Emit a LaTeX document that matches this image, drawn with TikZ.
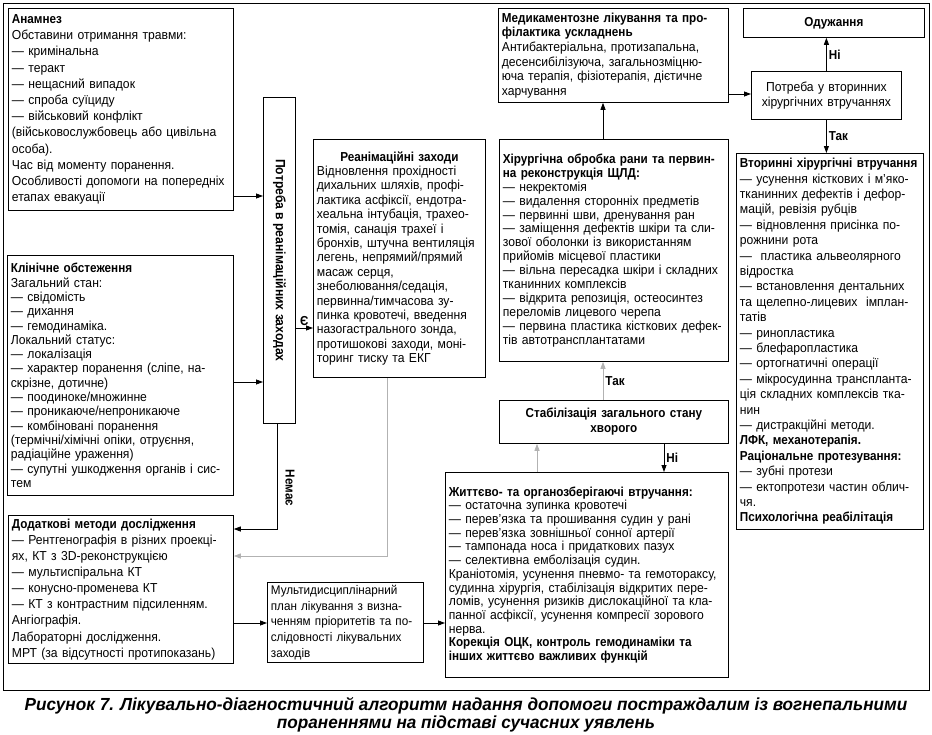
\documentclass[tikz,border=0pt]{standalone}
\usepackage{fontspec}
\setmainfont{Liberation Sans}[FakeStretch=0.935, BoldFeatures={FakeStretch=0.9}]
\newfontfamily\capfont{Liberation Sans}[FakeStretch=0.98]
\usetikzlibrary{arrows.meta}

\begin{document}
\begin{tikzpicture}[x=1pt, y=-1pt, >={Triangle[length=7pt,width=5pt]},
  box/.style={draw, line width=0.8pt, anchor=north west, inner xsep=3pt, inner ysep=2pt,
    align=left, font=\fontsize{13}{#1}\selectfont},
  link/.style={->, line width=0.8pt},
  glink/.style={link, draw=gray!60},
  lbl/.style={font=\fontsize{13}{15}\selectfont\bfseries, inner sep=2pt}]

\useasboundingbox (0,0) rectangle (932,734);

% Frame
\draw[line width=1pt] (3,3) rectangle (929,690);

% --- Left column: examination ---
\node[box=16.2, minimum width=225, minimum height=202, text width=218pt] (anam) at (8,8) {%
\textbf{Анамнез}\\
Обставини отримання травми:\\
— кримінальна\\
— теракт\\
— нещасний випадок\\
— спроба суїциду\\
— військовий конфлікт\\
(військовослужбовець або цивільна\\
особа).\\
Час від моменту поранення.\\
Особливості допомоги на попередніх\\
етапах евакуації};

\node[box=14.3, minimum width=226, minimum height=240, text width=219pt] (clin) at (7,255) {%
\textbf{Клінічне обстеження}\\
Загальний стан:\\
— свідомість\\
— дихання\\
— гемодинаміка.\\
Локальний статус:\\
— локалізація\\
— характер поранення (сліпе, на-\\
скрізне, дотичне)\\
— поодиноке/множинне\\
— проникаюче/непроникаюче\\
— комбіновані поранення\\
(термічні/хімічні опіки, отруєння,\\
радіаційне ураження)\\
— супутні ушкодження органів і сис-\\
тем};

\node[box=16.1, minimum width=225, minimum height=148, text width=218pt] (extra) at (8,515) {%
\textbf{Додаткові методи дослідження}\\
— Рентгенографія в різних проекці-\\
ях, КТ з 3D-реконструкцією\\
— мультиспіральна КТ\\
— конусно-променева КТ\\
— КТ з контрастним підсиленням.\\
Ангіографія.\\
Лабораторні дослідження.\\
МРТ (за відсутності протипоказань)};

\node[box=15.7, font=\fontsize{12.5}{15.7}\selectfont, minimum width=156, minimum height=80, text width=149pt]
  (plan) at (267,582) {%
Мультидисциплінарний\\
план лікування з визна-\\
ченням пріоритетів та по-\\
слідовності лікувальних\\
заходів};

% --- Resuscitation ---
\node[box=15, align=center, minimum width=32, minimum height=326, inner sep=0pt] (needre) at (263,97)
  {\rotatebox{-90}{\fontsize{13.5}{15}\selectfont\bfseries Потреба в реанімаційних заходах}};

\node[box=14.4, minimum width=172, minimum height=238, text width=165pt] (reanim) at (313,139) {%
\centerline{\textbf{Реанімаційні заходи}}
Відновлення прохідності\\
дихальних шляхів, профі-\\
лактика асфіксії, ендотра-\\
хеальна інтубація, трахео-\\
томія, санація трахеї і\\
бронхів, штучна вентиляція\\
легень, непрямий/прямий\\
масаж серця,\\
знеболювання/седація,\\
первинна/тимчасова зу-\\
пинка кровотечі, введення\\
назогастрального зонда,\\
протишокові заходи, моні-\\
торинг тиску та ЕКГ};

% --- Middle column: treatment ---
\node[box=14.7, minimum width=230, minimum height=94, text width=223pt] (drug) at (498,8) {%
\textbf{Медикаментозне лікування та про-}\\
\textbf{філактика ускладнень}\\
Антибактеріальна, протизапальна,\\
десенсибілізуюча, загальнозміцню-\\
юча терапія, фізіотерапія, дієтичне\\
харчування};

\node[box=13.9, minimum width=229, minimum height=222, text width=222pt] (surg) at (499,139) {%
\textbf{Хірургічна обробка рани та первин-}\\
\textbf{на реконструкція ЩЛД:}\\
— некректомія\\
— видалення сторонніх предметів\\
— первинні шви, дренування ран\\
— заміщення дефектів шкіри та сли-\\
зової оболонки із використанням\\
прийомів місцевої пластики\\
— вільна пересадка шкіри і складних\\
тканинних комплексів\\
— відкрита репозиція, остеосинтез\\
переломів лицевого черепа\\
— первина пластика кісткових дефек-\\
тів автотрансплантатами};

\node[box=15, align=center, minimum width=229, minimum height=43, text width=222pt] (stab) at (499,400)
  {\textbf{Стабілізація загального стану}\\\textbf{хворого}};

\node[box=13.7, minimum width=283, minimum height=205, text width=276pt] (vital) at (445,472) {%
\textbf{Життєво- та органозберігаючі втручання:}\\
— остаточна зупинка кровотечі\\
— перев’язка та прошивання судин у рані\\
— перев’язка зовнішньої сонної артерії\\
— тампонада носа і придаткових пазух\\
— селективна емболізація судин.\\
Краніотомія, усунення пневмо- та гемотораксу,\\
судинна хірургія, стабілізація відкритих пере-\\
ломів, усунення ризиків дислокаційної та кла-\\
панної асфіксії, усунення компресії зорового\\
нерва.\\
\textbf{Корекція ОЦК, контроль гемодинаміки та}\\
\textbf{інших життєво важливих функцій}};

% --- Right column: outcome ---
\node[box=15, align=center, minimum width=181, minimum height=29, text width=174pt] (recov) at (743,8)
  {\textbf{Одужання}};

\node[box=15.5, align=center, minimum width=150, minimum height=48, text width=143pt] (needsec) at (751,71)
  {Потреба у вторинних\\хірургічних втручаннях};

\node[box=15.4, minimum width=187, minimum height=376, text width=180pt] (second) at (736,153) {%
\textbf{Вторинні хірургічні втручання}\\
— усунення кісткових і м’яко-\\
тканинних дефектів і дефор-\\
мацій, ревізія рубців\\
— відновлення присінка по-\\
рожнини рота\\
— \ пластика альвеолярного\\
відростка\\
— встановлення дентальних\\
та щелепно-лицевих \ імплан-\\
татів\\
— ринопластика\\
— блефаропластика\\
— ортогнатичні операції\\
— мікросудинна транспланта-\\
ція складних комплексів тка-\\
нин\\
— дистракційні методи.\\
\textbf{ЛФК, механотерапія.}\\
\textbf{Раціональне протезування:}\\
— зубні протези\\
— ектопротези частин облич-\\
чя.\\
\textbf{Психологічна реабілітація}};

% --- Connectors ---
\draw[link] (anam.east |- 0,196) -- (needre.west |- 0,196);
\draw[link] (clin.east |- 0,382) -- (needre.west |- 0,382);
\draw[link] (needre.east |- 0,328) -- node[lbl, above] {Є} (reanim.west |- 0,328);
\draw[link] ([xshift=-2]needre.south) |- (extra.east |- 0,529);
\node[lbl, rotate=-90] (nemae) at (290,488) {Немає};
\draw[glink] ([xshift=-12]reanim.south) |- (extra.east |- 0,556);
\draw[link] (extra.east |- 0,623) -- (plan.west |- 0,623);
\draw[link] (plan.east |- 0,623) -- (vital.west |- 0,623);
\draw[glink] (vital.north -| 537,0) -- (stab.south -| 537,0);
\draw[link] (stab.south -| 664,0) -- node[lbl, right] {Ні} (vital.north -| 664,0);
\draw[glink] (stab.north -| 603,0) -- node[lbl, right] {Так} (surg.south -| 603,0);
\draw[link] (surg.north -| 603,0) -- (drug.south -| 603,0);
\draw[link] (drug.east |- 0,94) -- (needsec.west |- 0,94);
\draw[link] (needsec.north) -- node[lbl, right] {Ні} (needsec.north |- recov.south);
\draw[link] (needsec.south) -- node[lbl, right] {Так} (needsec.south |- second.north);

% Caption
\node[align=center, font=\capfont\fontsize{17.5}{17.5}\selectfont\bfseries\itshape] (caption) at (466,715)
  {Рисунок 7. Лікувально-діагностичний алгоритм надання допомоги постраждалим із вогнепальними\\
   пораненнями на підставі сучасних уявлень};

\end{tikzpicture}
\end{document}
